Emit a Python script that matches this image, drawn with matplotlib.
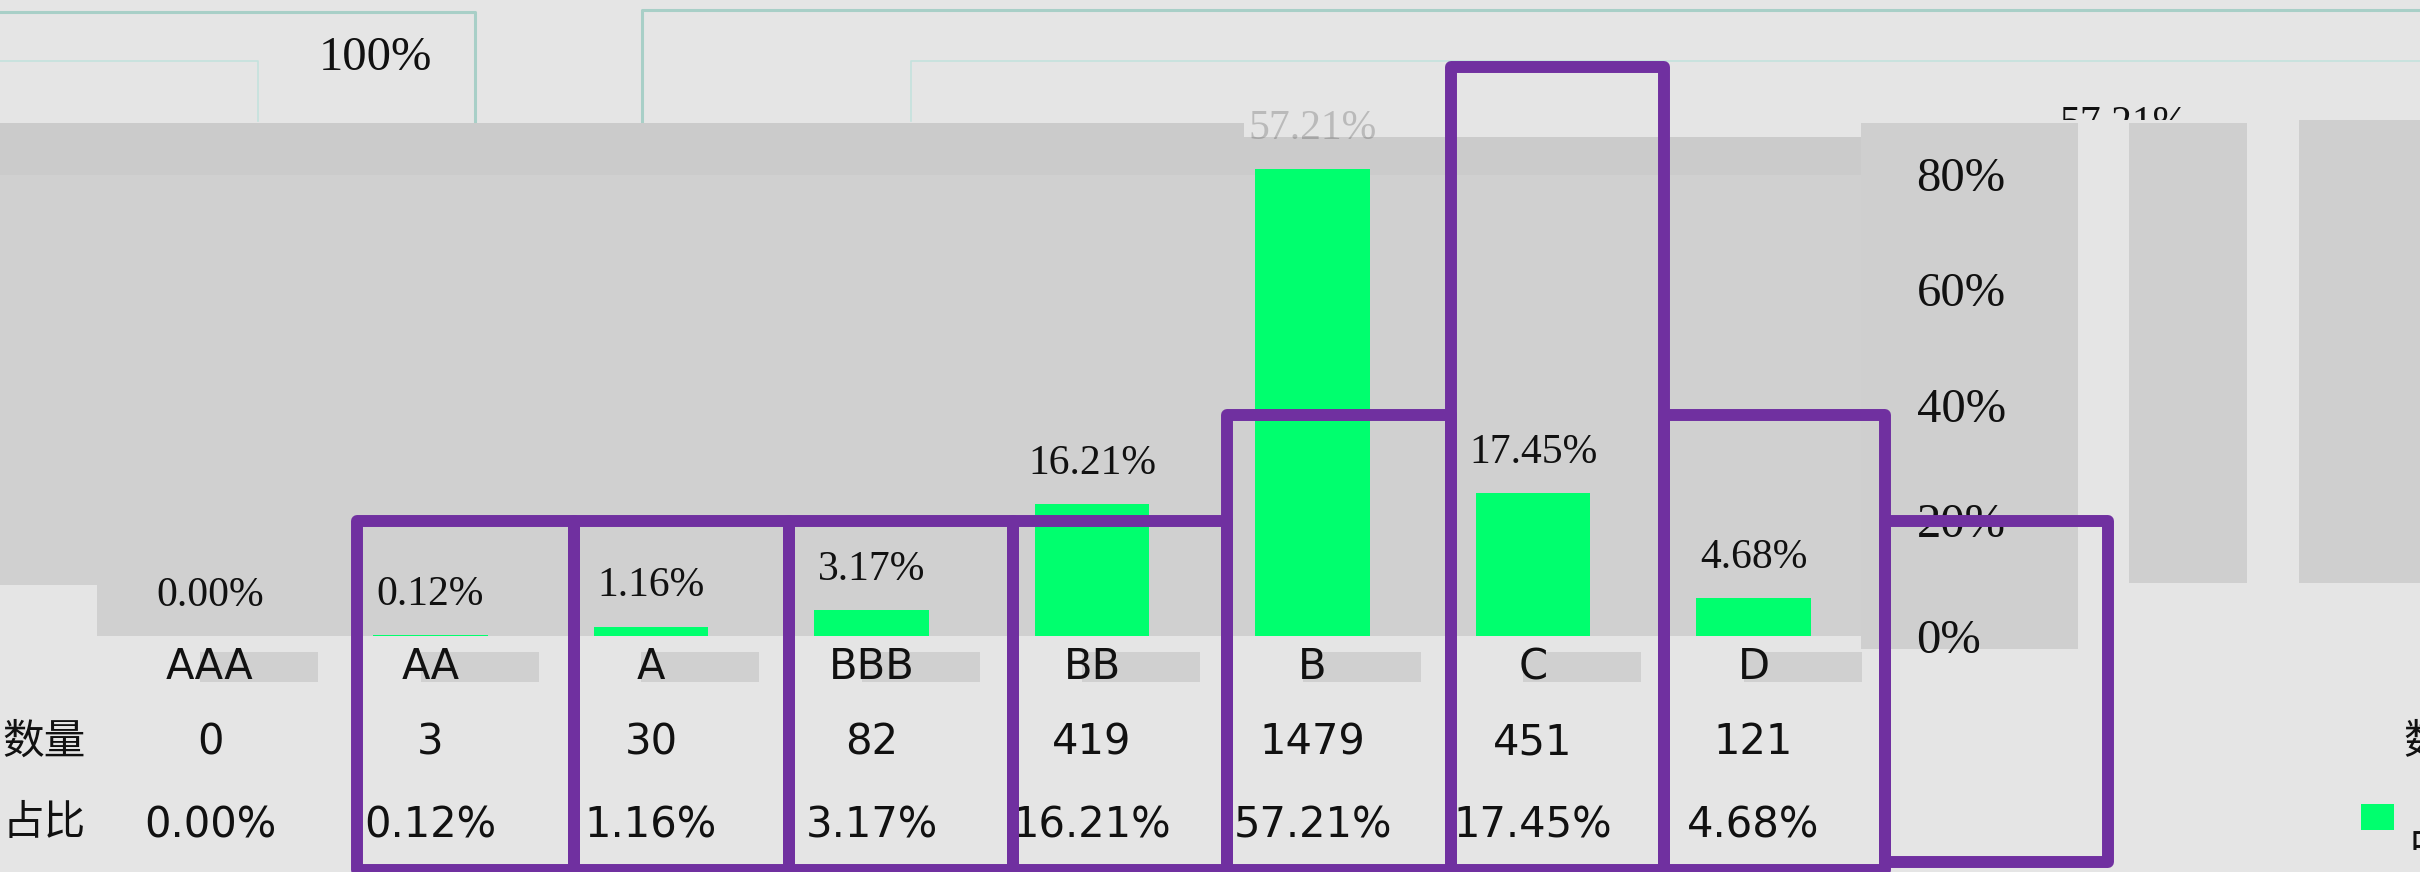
import matplotlib
matplotlib.use("Agg")
import matplotlib.pyplot as plt
from matplotlib.patches import Rectangle
from matplotlib.transforms import blended_transform_factory, Bbox, TransformedBbox

# ---- data ----
categories = ["AAA", "AA", "A", "BBB", "BB", "B", "C", "D"]
counts = [0, 3, 30, 82, 419, 1479, 451, 121]
shares = [0.00, 0.12, 1.16, 3.17, 16.21, 57.21, 17.45, 4.68]
row_labels = ["数量", "占比"]
axis_ticks = [0, 20, 40, 60, 80]

W, H = 2420, 872
BG = "#e5e5e5"
GRAY = "#d0d0d0"
BAND = "#cbcbcb"
PURPLE = "#7030a0"
GREEN = "#00ff6e"
TEAL = "#a8cfc7"
TEAL2 = "#c4e2dd"
SERIF = "Liberation Serif"
SANS = ["DejaVu Sans", "Noto Sans CJK SC"]

fig = plt.figure(figsize=(W / 100, H / 100), dpi=100, facecolor=BG)


def px_axes(x0, y0, x1, y1):
    return fig.add_axes([x0 / W, 1 - y1 / H, (x1 - x0) / W, (y1 - y0) / H])


# background decoration layer (pixel coordinates)
bg = fig.add_axes([0, 0, 1, 1])
bg.set_xlim(0, W)
bg.set_ylim(H, 0)
bg.axis("off")
bg.set_zorder(0)


def rect(a, x0, y0, x1, y1, color, z=1):
    a.add_patch(Rectangle((x0, y0), x1 - x0, y1 - y0, facecolor=color,
                          edgecolor="none", zorder=z))


rect(bg, 0, 137, 1861, 636, GRAY)
rect(bg, 0, 123, 1244, 175, BAND)
rect(bg, 1244, 137, 1861, 175, BAND)
rect(bg, 0, 585, 97, 636, BG, 2)
rect(bg, 1861, 123, 2078, 649, "#cfcfcf")
rect(bg, 2129, 123, 2247, 583, "#cfcfcf")
rect(bg, 2299, 120, 2420, 583, "#cfcfcf")

# thin teal frame lines at the top
bg.plot([0, 475, 475], [12, 12, 121], color=TEAL, lw=2.2, zorder=3)
bg.plot([642, 642, 2420], [121, 10, 10], color=TEAL, lw=2.2, zorder=3)
bg.plot([0, 258, 258], [61, 61, 121], color=TEAL2, lw=1.2, zorder=3)
bg.plot([911, 911, 2420], [121, 61, 61], color=TEAL2, lw=1.2, zorder=3)

# ---- main bar axes ----
ax = px_axes(0, 123, 1861, 636)
ax.set_zorder(2)
ax.patch.set_alpha(0)
x = list(range(len(categories)))
ax.bar(x, shares, width=0.52, color=GREEN, edgecolor="none")
ax.set_xlim(-0.9524, 7.4875)
ax.set_ylim(0, 62.79)
ax.set_xticks([])
ax.set_yticks([])
for s in ax.spines.values():
    s.set_visible(False)

for xi, v in zip(x, shares):
    ax.annotate(f"{v:.2f}%", (xi, v), xytext=(0, 29), textcoords="offset points",
                ha="center", va="center", fontsize=30, family=SERIF,
                color="#111111", alpha=0.2 if v > 50 else 1.0,
                annotation_clip=False)

# secondary percentage axis (labels only)
ax2 = ax.twinx()
ax2.set_zorder(3)
ax2.patch.set_alpha(0)
ax2.set_ylim(0, 88.83)
ax2.set_yticks(axis_ticks)
ax2.set_yticklabels([f"{t}%" for t in axis_ticks], family=SERIF, fontsize=35,
                    color="#111111")
ax2.tick_params(axis="y", length=0, pad=40)
for s in ax2.spines.values():
    s.set_visible(False)

# ---- foreground layer ----
fg = fig.add_axes([0, 0, 1, 1])
fg.set_xlim(0, W)
fg.set_ylim(H, 0)
fg.axis("off")
fg.set_zorder(5)
fg.patch.set_alpha(0)

trans = blended_transform_factory(ax.transData, fg.transData)

# table below the bars
for xi, cat, n, v in zip(x, categories, counts, shares):
    fg.add_patch(Rectangle((xi - 10 / 220.5, 652), 118 / 220.5, 30,
                           transform=trans, facecolor=GRAY, edgecolor="none",
                           zorder=1))
    fg.text(xi, 667, cat, transform=trans, ha="center", va="center",
            fontsize=30, family=SANS, color="#111111", zorder=3)
    fg.text(xi, 742, str(n), transform=trans, ha="center", va="center",
            fontsize=30, family=SANS, color="#111111", zorder=3)
    fg.text(xi, 825, f"{v:.2f}%", transform=trans, ha="center", va="center",
            fontsize=30, family=SANS, color="#111111", zorder=3)

fg.text(86, 742, row_labels[0], ha="right", va="center", fontsize=30,
        family=SANS, color="#111111")
fg.text(86, 823, row_labels[1], ha="right", va="center", fontsize=30,
        family=SANS, color="#111111")

# stray copies at the right edge (cut off in the reference too)
fg.text(2403, 742, row_labels[0], ha="left", va="center", fontsize=30,
        family=SANS, color="#111111")
fg.add_patch(Rectangle((2361, 804), 33, 26, facecolor=GREEN, edgecolor="none"))
fg.text(2407, 835, row_labels[1], ha="left", va="center", fontsize=30,
        family=SANS, color="#111111")

# stray top labels
fg.text(375, 58, f"{100}%", ha="center", va="center", fontsize=35,
        family=SERIF, color="#111111")
t = fg.text(2124, 125, f"{shares[5]:.2f}%", ha="center", va="center",
            fontsize=30, family=SERIF, color="#111111", clip_on=True)
t.set_clip_box(TransformedBbox(Bbox.from_extents(2000, 0, 2300, 120),
                               fg.transData))

# purple highlight boxes
edges = [357, 574, 789, 1013, 1227, 1451, 1664, 1885, 2108]
tops = [521, 521, 521, 521, 415, 67, 415, 521]
bottoms = [870, 870, 870, 870, 870, 870, 870, 862]
for i in range(len(tops)):
    fg.add_patch(Rectangle((edges[i], tops[i]), edges[i + 1] - edges[i],
                           bottoms[i] - tops[i], facecolor="none",
                           edgecolor=PURPLE, lw=8.6, joinstyle="round",
                           zorder=6))

fig.savefig("out.png", dpi=100, facecolor=BG)
